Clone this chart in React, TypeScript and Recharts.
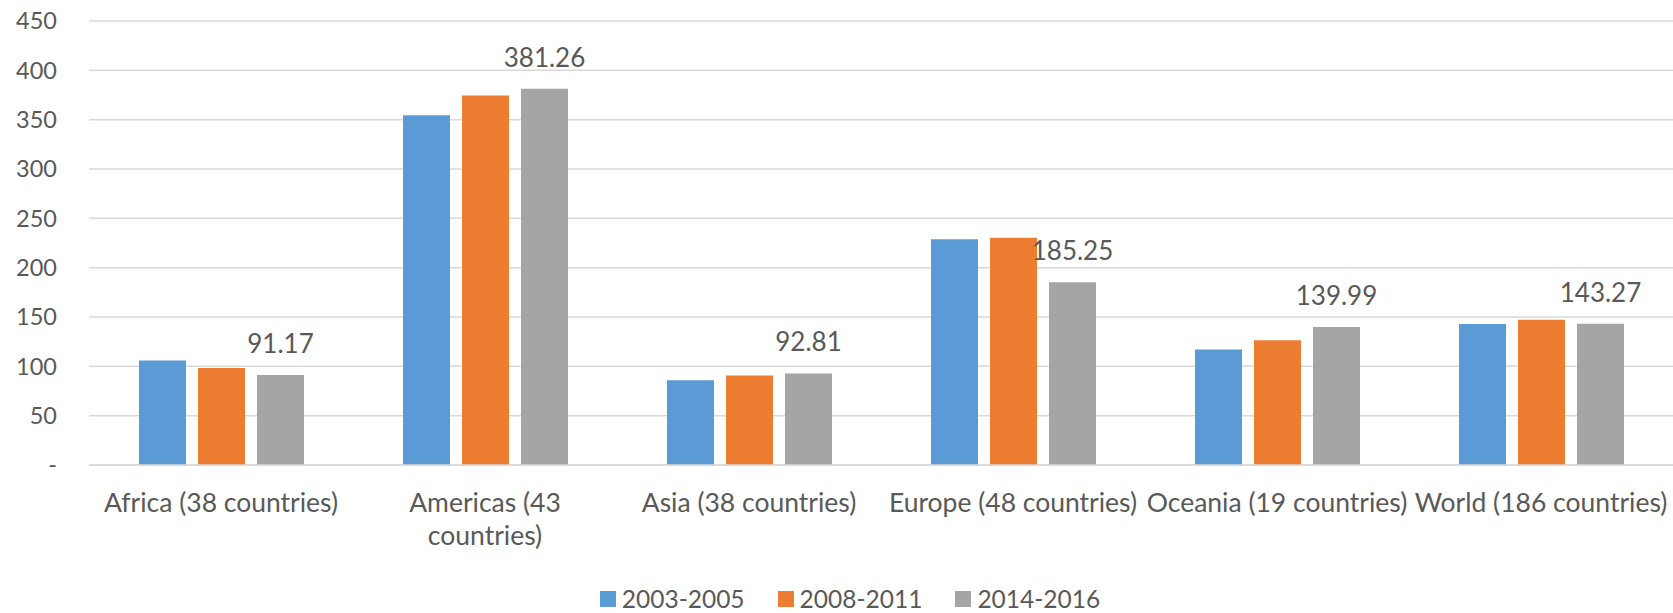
import { BarChart, Bar, XAxis, YAxis, CartesianGrid, Legend, LabelList } from "recharts";

const categories = [
  "Africa (38 countries)",
  "Americas (43 countries)",
  "Asia (38 countries)",
  "Europe (48 countries)",
  "Oceania (19 countries)",
  "World (186 countries)",
];
const values2003 = [106, 354.6, 86, 228.8, 117, 142.9];
const values2008 = [98.4, 374.4, 90.7, 230.2, 126.4, 147.3];
const values2014 = [91.17, 381.26, 92.81, 185.25, 139.99, 143.27];
const yTicks = [0, 50, 100, 150, 200, 250, 300, 350, 400, 450];

const seriesInfo = [
  { key: "p2003", name: "2003-2005", color: "#5B9BD5" },
  { key: "p2008", name: "2008-2011", color: "#ED7D31" },
  { key: "p2014", name: "2014-2016", color: "#A5A5A5" },
];

const FONT = "Lato, 'Open Sans', sans-serif";
const TEXT = "#595959";
const GRID = "#d9d9d9";
const MAX_CHARS = 22; // longer category names wrap onto a second line, like Excel did

const data = categories.map((name, i) => ({
  name,
  p2003: values2003[i],
  p2008: values2008[i],
  p2014: values2014[i],
}));

function wrapLabel(label: string): string[] {
  if (label.length <= MAX_CHARS) return [label];
  const cut = label.lastIndexOf(" ");
  return [label.slice(0, cut), label.slice(cut + 1)];
}

function CategoryTick(props: any) {
  const { x, y, payload } = props;
  const lines = wrapLabel(String(payload.value));
  return (
    <text x={x} y={y} textAnchor="middle" fill={TEXT} fontSize={26.5} fontFamily={FONT}>
      {lines.map((line, i) => (
        <tspan key={i} x={x} dy={i === 0 ? "0.71em" : 33}>
          {line}
        </tspan>
      ))}
    </text>
  );
}

function LegendBox() {
  return (
    <div style={{ display: "flex", justifyContent: "center", gap: 33, paddingLeft: 27, fontFamily: FONT, fontSize: 24.5, color: TEXT, lineHeight: "28px" }}>
      {seriesInfo.map((s) => (
        <div key={s.key} style={{ display: "flex", alignItems: "center", gap: 6 }}>
          <span style={{ width: 16, height: 16, background: s.color, display: "inline-block" }} />
          <span>{s.name}</span>
        </div>
      ))}
    </div>
  );
}

export default function App() {
  return (
    <div style={{ position: "absolute", left: 0, top: 0, width: 1673, height: 613, background: "#fff" }}>
      <BarChart
        width={1673}
        height={613}
        data={data}
        margin={{ top: 21, right: 0, left: 0, bottom: 0 }}
        barCategoryGap={50}
        barGap={12}
      >
        <CartesianGrid vertical={false} stroke={GRID} strokeWidth={1.5} />
        <XAxis
          dataKey="name"
          interval={0}
          height={120}
          tickLine={false}
          tickSize={6}
          tickMargin={22}
          axisLine={{ stroke: GRID, strokeWidth: 1.5 }}
          tick={<CategoryTick />}
        />
        <YAxis
          width={89}
          domain={[0, 450]}
          ticks={yTicks}
          interval={0}
          axisLine={false}
          tickLine={false}
          tickSize={6}
          tickMargin={26}
          tick={{ fill: TEXT, fontSize: 23.5, fontFamily: FONT }}
          tickFormatter={(v: number) => (v === 0 ? "-" : String(v))}
        />
        <Legend verticalAlign="bottom" align="center" wrapperStyle={{ height: 28 }} content={() => <LegendBox />} />
        {seriesInfo.map((s) => (
          <Bar key={s.key} dataKey={s.key} name={s.name} fill={s.color} isAnimationActive={false}>
            {s.key === "p2014" ? (
              <LabelList
                dataKey={s.key}
                position="top"
                offset={22}
                fill={TEXT}
                fontSize={26}
                fontFamily={FONT}
                formatter={(v: number) => v.toFixed(2)}
              />
            ) : null}
          </Bar>
        ))}
      </BarChart>
    </div>
  );
}
